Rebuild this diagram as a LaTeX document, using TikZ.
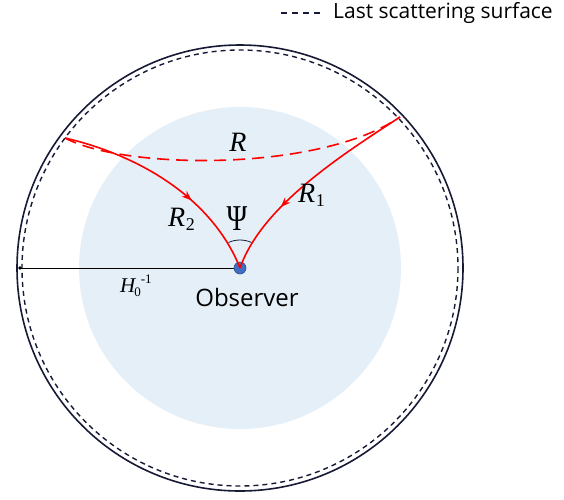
\documentclass[tikz,border=0pt]{standalone}
\usepackage{fontspec}
\setmainfont{Open Sans}
\newfontfamily\symfont{Liberation Serif}
\usetikzlibrary{arrows.meta,decorations.markings}
\definecolor{navy}{HTML}{161A36}
\definecolor{paleblue}{HTML}{E4EFF7}
\definecolor{obsblue}{HTML}{3F6FC4}
\newcommand{\idx}[1]{\raisebox{-4pt}{\fontsize{18}{18}\symfont\upshape #1}}
\begin{document}
\begin{tikzpicture}[x=1pt,y=-1pt,
  every node/.style={inner sep=0pt},
  lbl/.style={font=\fontsize{28}{30}\symfont\itshape},
  ray/.style={red,line width=1.6pt,postaction={decorate},
    decoration={markings,mark=at position #1 with {\arrow{Stealth[length=10pt,width=7.5pt]}}}},
  sky/.style={navy,line width=1.6pt},
  lss/.style={navy,line width=1.4pt,dash pattern=on 5pt off 4pt}]
\useasboundingbox (0,0) rectangle (564,499);
% horizon and last scattering surface
\fill[paleblue] (240,268) circle (161);
\draw[sky] (240,268) circle (223);
\draw[lss] (240,268) circle (218);
% observer and radius
\coordinate (edge) at (20,268);
\node[circle,fill=obsblue,draw=obsblue!70!black,line width=0.6pt,minimum size=12pt] (obs) at (240,268) {};
\draw[line width=0.9pt] (edge) -- (obs);
\fill (edge) circle (1.8);
% rays from the sources
\coordinate (srcL) at (65,138);
\coordinate (srcR) at (400,117);
\draw[red,line width=1.6pt,dash pattern=on 12pt off 7pt] (srcL) .. controls (125,170) and (320,172) .. (srcR);
\draw[ray=0.63] (srcL) .. controls (150,158) and (215,205) .. (obs.center);
\draw[ray=0.67] (srcR) .. controls (345,153) and (262,205) .. (obs.center);
\draw[navy,line width=0.8pt] (obs.center) ++(-66:28) arc[start angle=-66,end angle=-114,radius=28];
% labels
\node[lbl,anchor=base] (rlab) at (238,151) {R};
\node[lbl,anchor=base west] (rtwo) at (168,226) {R\kern0.5pt\idx{2}};
\node[lbl,anchor=base west] (rone) at (298,202) {R\kern0.5pt\idx{1}};
\node[font=\fontsize{28}{30}\symfont,anchor=base] (psi) at (237,230) {\scalebox{1}[1.3]{Ψ}};
\node[font=\fontsize{21}{24}\symfont\itshape,anchor=base west] (hub) at (120,292) {H\kern-1pt\raisebox{-4pt}{\fontsize{13}{13}\symfont\upshape 0}\raisebox{9pt}{\fontsize{13}{13}\symfont\upshape -1}};
\node[font=\fontsize{24}{28}\selectfont,anchor=base] (obslab) at (247,306) {Observer};
% legend
\coordinate (legA) at (281,13);
\coordinate (legB) at (323,13);
\draw[navy,line width=1.4pt,dash pattern=on 6pt off 5pt] (legA) -- (legB);
\node[font=\fontsize{21}{25}\selectfont,anchor=base west] (leglab) at (333,18) {Last scattering surface};
\end{tikzpicture}
\end{document}
